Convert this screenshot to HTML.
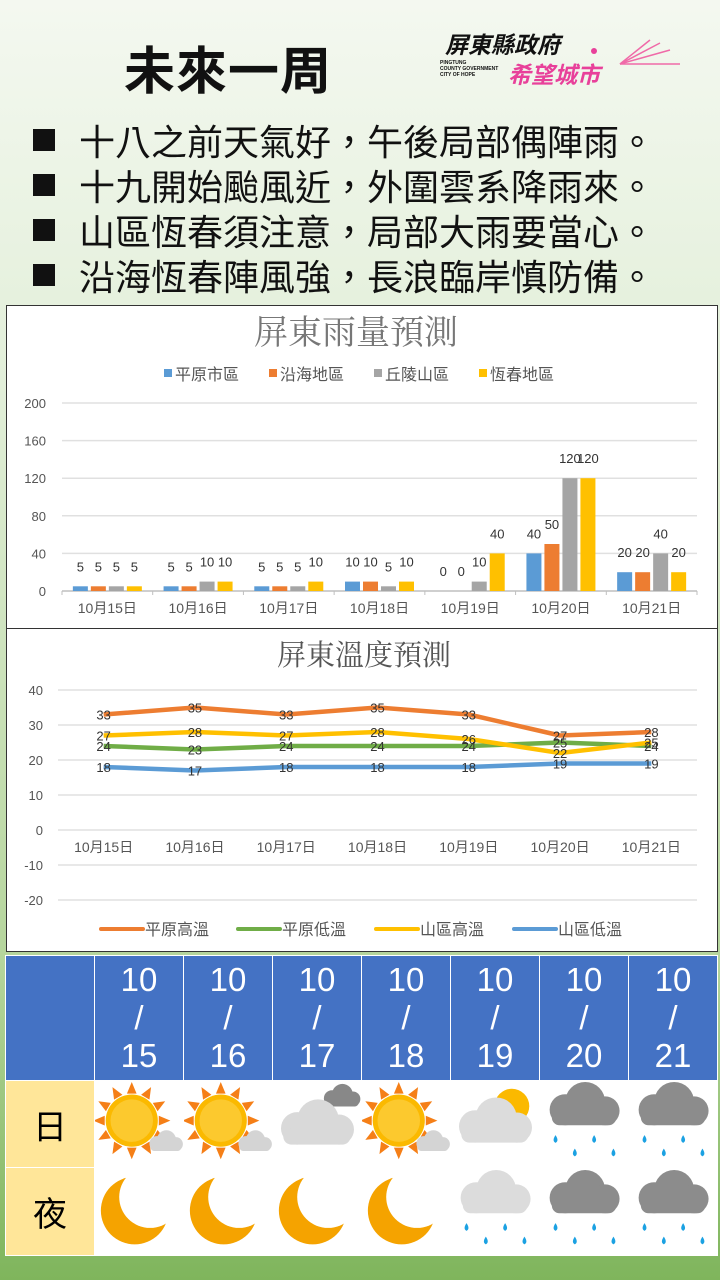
<!DOCTYPE html>
<html><head><meta charset="utf-8">
<style>
*{margin:0;padding:0;box-sizing:border-box}
body{width:720px;height:1280px;overflow:hidden;font-family:"Liberation Sans","Noto Sans CJK TC",sans-serif;background:linear-gradient(180deg,#f4f8f0 0%,#e2efd9 30%,#b5d59c 75%,#7fb55c 100%);position:relative}
.abs{position:absolute}
.title{left:124px;top:30px;font-size:51px;font-weight:bold;color:#111;letter-spacing:1px}
.bl{left:33px;font-size:36px;color:#111;white-space:nowrap;line-height:44px}
.bl::before{content:"";display:inline-block;width:22px;height:22px;background:#111;margin-right:24px;vertical-align:4px}
.panel{background:#fff;border:1px solid #333}
table{border-collapse:collapse;position:absolute;left:5px;top:955px;width:712px;table-layout:fixed}
td{border:1px solid #fff;text-align:center;padding:0;overflow:hidden}
td svg{display:block;margin:0 auto}
</style></head><body>
<div class="abs title">未來一周</div>
<div class="abs" style="left:445px;top:26px;font-size:23px;font-weight:bold;font-style:italic;color:#111">屏東縣政府</div>
<div class="abs" style="left:440px;top:60px;font-size:5px;line-height:6px;color:#111;font-weight:bold">PINGTUNG<br>COUNTY GOVERNMENT<br>CITY OF HOPE</div>
<div class="abs" style="left:508px;top:56px;font-size:23px;font-weight:bold;font-style:italic;color:#e8409a">希望城市</div>
<svg class="abs" style="left:580px;top:38px" width="110" height="40"><g stroke="#f06aa8" stroke-width="1.5"><line x1="40" y1="26" x2="100" y2="26"/><line x1="40" y1="26" x2="90" y2="12"/><line x1="40" y1="26" x2="80" y2="5"/><line x1="40" y1="26" x2="70" y2="2"/></g><circle cx="14" cy="13" r="3" fill="#e8409a"/></svg>

<div class="abs bl" style="top:121px">十八之前天氣好，午後局部偶陣雨。</div>
<div class="abs bl" style="top:166px">十九開始颱風近，外圍雲系降雨來。</div>
<div class="abs bl" style="top:211px">山區恆春須注意，局部大雨要當心。</div>
<div class="abs bl" style="top:256px">沿海恆春陣風強，長浪臨岸慎防備。</div>

<div class="abs panel" style="left:6px;top:305px;width:712px;height:324px"></div>
<div class="abs panel" style="left:6px;top:628px;width:712px;height:324px"></div>
<svg class="abs" style="left:0;top:0" width="720" height="960" id="charts"></svg>

<table>
<tr style="height:125px;background:#4472c4" id="hdr"><td style="width:89px"></td></tr>
<tr style="height:87px" id="dayrow"><td style="background:#ffe699;font-size:34px">日</td></tr>
<tr style="height:88px" id="nightrow"><td style="background:#ffe699;font-size:34px">夜</td></tr>
</table>

<script>
const categories=["10月15日","10月16日","10月17日","10月18日","10月19日","10月20日","10月21日"];
const rainSeriesNames=["平原市區","沿海地區","丘陵山區","恆春地區"];
const rainPlain=[5,5,5,10,0,40,20];
const rainCoast=[5,5,5,10,0,50,20];
const rainHill=[5,10,5,5,10,120,40];
const rainHengchun=[5,10,10,10,40,120,20];
const rainTicks=[0,40,80,120,160,200];
const tempSeriesNames=["平原高溫","平原低溫","山區高溫","山區低溫"];
const tempPlainHigh=[33,35,33,35,33,27,28];
const tempPlainLow=[24,23,24,24,24,25,24];
const tempHillHigh=[27,28,27,28,26,22,25];
const tempHillLow=[18,17,18,18,18,19,19];
const tempTicks=[40,30,20,10,0,-10,-20];
const dates=["15","16","17","18","19","20","21"];
const dayIcons=["sun","sun","cloud","sun","cloudsun","rain","rain"];
const nightIcons=["moon","moon","moon","moon","rainlight","rain","rain"];

const NS="http://www.w3.org/2000/svg";
const svg=document.getElementById('charts');
function mk(tag,attrs,parent){const e=document.createElementNS(NS,tag);for(const k in attrs)e.setAttribute(k,attrs[k]);(parent||svg).appendChild(e);return e;}
function txt(x,y,s,size,fill,anchor,parent){const t=mk('text',{x:x,y:y,'font-size':size,fill:fill,'text-anchor':anchor||'middle','font-family':'"Liberation Sans","Noto Sans CJK TC",sans-serif'},parent);t.textContent=s;return t;}
const SERIF='"Liberation Serif","Noto Serif CJK SC",serif';

// rain chart
const rx0=62,rx1=697,ry0=591,ry1=403;
const ry=v=>ry0-(v/200)*(ry0-ry1);
const cw=(rx1-rx0)/categories.length;
const rcx=i=>rx0+cw*(i+0.5);
const rainColors=["#5b9bd5","#ed7d31","#a5a5a5","#ffc000"];
const rainData=[rainPlain,rainCoast,rainHill,rainHengchun];
let t=txt(356,344,"屏東雨量預測",34,"#777");t.setAttribute('font-family',SERIF);
rainSeriesNames.forEach((n,k)=>{const lx=[164,269,374,479][k];
 let r=mk('rect',{x:lx,y:369,width:8,height:8,fill:rainColors[k]});
 let l=txt(lx+11,380,n,16,"#555","start");});
rainTicks.forEach(v=>{const y=ry(v);
 if(v>0){let g=mk('line',{x1:rx0,x2:rx1,y1:y,y2:y,stroke:"#e0e0e0","stroke-width":1.5});}
 let l=txt(46,y+5,String(v),13,"#555","end");});
let ax=mk('line',{x1:rx0,x2:rx1,y1:ry0,y2:ry0,stroke:"#bfbfbf","stroke-width":1.5});
categories.forEach((c,i)=>{
 let tk=mk('line',{x1:rx0+cw*i,x2:rx0+cw*i,y1:ry0,y2:ry0+4,stroke:"#bfbfbf"});
 let l=txt(rcx(i),613,c,14,"#555");
 rainData.forEach((s,k)=>{const bw=15,x=rcx(i)-2*(bw+3)+k*(bw+3)+1.5;const v=s[i];
  let b=mk('rect',{x:x,y:ry(v),width:bw,height:ry0-ry(v),fill:rainColors[k]});
  let vl=txt(x+bw/2,ry(v)-15,String(v),13,"#333");});
});
mk('line',{x1:rx1,x2:rx1,y1:ry0,y2:ry0+4,stroke:"#bfbfbf"});

// temp chart
const tx0=58,tx1=697,ty=v=>830-v*3.5;
const tcw=(tx1-tx0)/categories.length;const tcx=i=>tx0+tcw*(i+0.5);
t=txt(364,665,"屏東溫度預測",29,"#555");t.setAttribute('font-family',SERIF);
tempTicks.forEach(v=>{const y=ty(v);
 let g=mk('line',{x1:tx0,x2:tx1,y1:y,y2:y,stroke:"#e0e0e0","stroke-width":1.5});
 let l=txt(43,y+5,String(v),13,"#555","end");});
categories.forEach((c,i)=>{let l=txt(tcx(i),852,c,14,"#555");});
const tempColors=["#ed7d31","#70ad47","#ffc000","#5b9bd5"];
const tempData=[tempPlainHigh,tempPlainLow,tempHillHigh,tempHillLow];
[1,3,2,0].forEach(k=>{const s=tempData[k];
 let p=mk('polyline',{points:s.map((v,i)=>tcx(i)+","+ty(v)).join(" "),fill:"none",stroke:tempColors[k],"stroke-width":4.5,"stroke-linejoin":"round"});
 });
tempData.forEach(s=>s.forEach((v,i)=>{let l=txt(tcx(i),ty(v)+5,String(v),13,"#333");}));
tempSeriesNames.forEach((n,k)=>{const lx=[101,238,376,514][k];
 let ln=mk('line',{x1:lx,x2:lx+42,y1:929,y2:929,stroke:tempColors[k],"stroke-width":4,"stroke-linecap":"round"});
 let l=txt(lx+44,935,n,16,"#555","start");});

// table
function icon(kind){
 let s='<svg width="88" height="84" viewBox="0 0 89 87">';
 const cloud=(x,y,sc,col)=>`<g transform="translate(${x},${y}) scale(${sc})" fill="${col}"><circle cx="20" cy="25" r="14"/><circle cx="38" cy="18" r="18"/><circle cx="56" cy="26" r="13"/><rect x="8" y="25" width="58" height="14" rx="7"/></g>`;
 const drops=(y)=>[15,35,55,75].map((x,i)=>`<path d="M${x} ${y+(i%2)*14} q-4 6 0 8 q4 -2 0 -8z" fill="#1ba1e2"/>`).join('');
 if(kind=="sun"){s+='<g fill="#f57f17">';for(let a=0;a<360;a+=30){s+=`<polygon points="0,-40 5,-28 -5,-28" transform="translate(37,40) rotate(${a})"/>`;}s+='</g><circle cx="37" cy="40" r="27" fill="#fbb900"/><circle cx="37" cy="40" r="22" fill="#fcc92e"/>'+cloud(52,50,0.55,"#d4d4d4");}
 if(kind=="cloud"){s+=cloud(48,2,0.6,"#888")+cloud(0,18,1.2,"#d9d9d9");}
 if(kind=="cloudsun"){s+='<circle cx="62" cy="25" r="18" fill="#fbb900"/>'+cloud(0,16,1.2,"#dcdcdc");}
 if(kind=="rain"){s+=cloud(2,0,1.15,"#8c8c8c")+drops(55);}
 if(kind=="rainlight"){s+=cloud(2,0,1.15,"#dcdcdc")+drops(55);}
 if(kind=="moon"){s+='<circle cx="40" cy="42" r="35" fill="#f5a300"/><circle cx="56" cy="28" r="32" fill="#fff"/>';}
 return s+'</svg>';
}
const hdr=document.getElementById('hdr'),dr=document.getElementById('dayrow'),nr=document.getElementById('nightrow');
dates.forEach((d,i)=>{
 let td=document.createElement('td');td.style.cssText='color:#fff;font-size:33px;line-height:38px;width:89px';td.innerHTML='10<br>/<br>'+d;
 
 hdr.appendChild(td);
 let a=document.createElement('td');a.style.background='#fff';a.innerHTML=icon(dayIcons[i]);
 
 dr.appendChild(a);
 let b=document.createElement('td');b.style.background='#fff';b.innerHTML=icon(nightIcons[i]);
 
 nr.appendChild(b);
});
</script>
</body></html>
